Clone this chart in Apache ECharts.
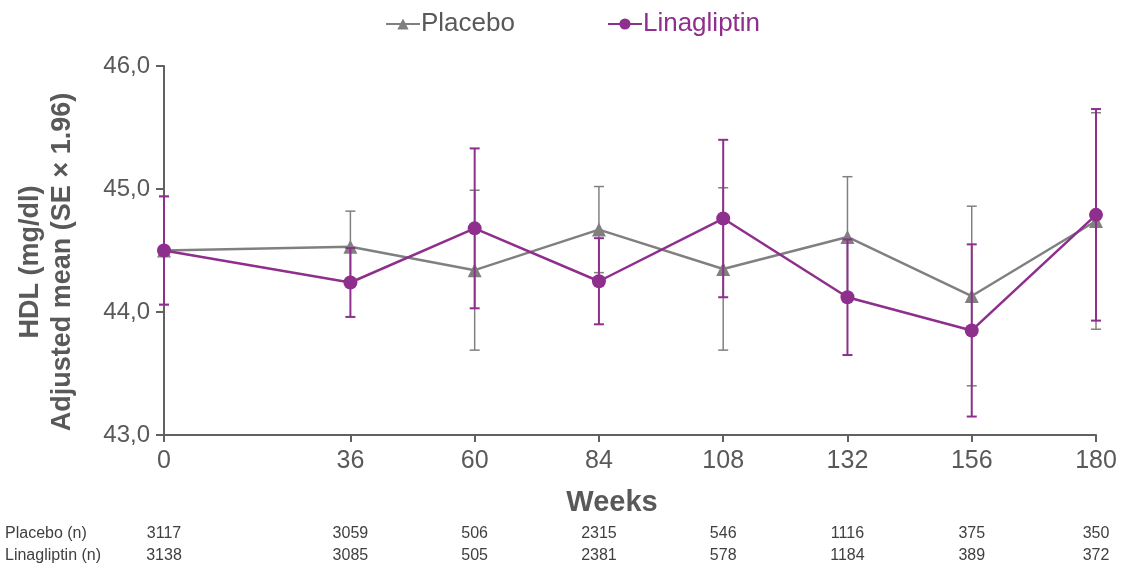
<!DOCTYPE html>
<html>
<head>
<meta charset="utf-8">
<script src="https://cdn.jsdelivr.net/npm/echarts@6/dist/echarts.min.js"></script>
<style>
  html, body { margin: 0; padding: 0; background: #fff; }
  #chart { width: 1127px; height: 567px; }
</style>
</head>
<body>
<div id="chart"></div>
<script>
// HDL adjusted mean by visit week, with 1.96*SE error bars
const weeks = [0, 36, 60, 84, 108, 132, 156, 180];
const placeboMean = [44.50, 44.53, 44.34, 44.67, 44.35, 44.61, 44.13, 44.74];
const placeboErr  = [0.44, 0.29, 0.65, 0.35, 0.66, 0.49, 0.73, 0.88];
const linaMean    = [44.50, 44.24, 44.68, 44.25, 44.76, 44.12, 43.85, 44.79];
const linaErr     = [0.44, 0.28, 0.65, 0.35, 0.64, 0.47, 0.70, 0.86];
const placeboN    = [3117, 3059, 506, 2315, 546, 1116, 375, 350];
const linaN       = [3138, 3085, 505, 2381, 578, 1184, 389, 372];
const yTicks      = [43, 44, 45, 46];

const PURPLE = '#8E2E8D';
const GREY = '#808080';
const TEXT = '#595959';
const AXIS = '#616161';
const FONT = '"Liberation Sans", Arial, sans-serif';

function errData(mean, err) {
  return weeks.map((w, i) => [w, mean[i] - err[i], mean[i] + err[i]]);
}

function errRenderer(color, width) {
  return function (params, api) {
    const x = api.value(0);
    const lo = api.coord([x, api.value(1)]);
    const hi = api.coord([x, api.value(2)]);
    const cap = 5;
    const style = { stroke: color, lineWidth: width };
    return {
      type: 'group',
      children: [
        { type: 'line', shape: { x1: lo[0], y1: lo[1], x2: hi[0], y2: hi[1] }, style },
        { type: 'line', shape: { x1: lo[0] - cap, y1: lo[1], x2: lo[0] + cap, y2: lo[1] }, style },
        { type: 'line', shape: { x1: hi[0] - cap, y1: hi[1], x2: hi[0] + cap, y2: hi[1] }, style }
      ]
    };
  };
}

function countAxis(values, offset) {
  return {
    type: 'value', min: 0, max: 180, position: 'bottom', offset: offset,
    axisLine: { show: false }, axisTick: { show: false }, splitLine: { show: false },
    axisLabel: {
      customValues: weeks, margin: 0,
      color: '#404040', fontSize: 16, fontFamily: FONT,
      formatter: v => { const i = weeks.indexOf(v); return i < 0 ? '' : String(values[i]); }
    }
  };
}

const chart = echarts.init(document.getElementById('chart'), null, { renderer: 'canvas' });
chart.setOption({
  animation: false,
  backgroundColor: '#ffffff',
  grid: { left: 164, right: 31, top: 66, bottom: 132, containLabel: false },
  legend: {
    data: [
      { name: 'Placebo', textStyle: { color: TEXT } },
      { name: 'Linagliptin', textStyle: { color: PURPLE } }
    ],
    left: 380, top: 6, itemWidth: 34, itemHeight: 14, itemGap: 92,
    textStyle: { fontSize: 26, fontFamily: FONT, padding: [0, 0, 0, -4] }
  },
  xAxis: [
    {
      type: 'value', min: 0, max: 180,
      axisLine: { show: true, lineStyle: { color: AXIS, width: 2 } },
      axisTick: { show: true, customValues: weeks, length: 7, lineStyle: { color: AXIS, width: 2 } },
      axisLabel: { customValues: weeks, color: TEXT, fontSize: 25, fontFamily: FONT, margin: 14 },
      splitLine: { show: false }
    },
    countAxis(placeboN, 91),
    countAxis(linaN, 113)
  ],
  yAxis: {
    type: 'value', min: yTicks[0], max: yTicks[yTicks.length - 1], interval: 1,
    axisLine: { show: true, lineStyle: { color: AXIS, width: 2 } },
    axisTick: { show: true, length: 8, lineStyle: { color: AXIS, width: 2 } },
    axisLabel: {
      color: TEXT, fontSize: 24, fontFamily: FONT, margin: 14,
      formatter: v => v.toFixed(1).replace('.', ',')
    },
    splitLine: { show: false }
  },
  graphic: [
    { type: 'text', x: 31, y: 262, rotation: Math.PI / 2,
      style: { text: 'HDL (mg/dl)', font: 'bold 27px ' + FONT, fill: TEXT, align: 'center', verticalAlign: 'middle' } },
    { type: 'text', x: 63, y: 262, rotation: Math.PI / 2,
      style: { text: 'Adjusted mean (SE \u00d7 1.96)', font: 'bold 27px ' + FONT, fill: TEXT, align: 'center', verticalAlign: 'middle' } },
    { type: 'text', x: 612, y: 503,
      style: { text: 'Weeks', font: 'bold 29px ' + FONT, fill: TEXT, align: 'center', verticalAlign: 'middle' } },
    { type: 'text', x: 5, y: 534,
      style: { text: 'Placebo (n)', font: '16px ' + FONT, fill: '#404040', align: 'left', verticalAlign: 'middle' } },
    { type: 'text', x: 5, y: 556,
      style: { text: 'Linagliptin (n)', font: '16px ' + FONT, fill: '#404040', align: 'left', verticalAlign: 'middle' } }
  ],
  series: [
    {
      name: 'Placebo SE', type: 'custom', z: 1,
      renderItem: errRenderer(GREY, 1.5), data: errData(placeboMean, placeboErr),
      encode: { x: 0, y: [1, 2] }, silent: true
    },
    {
      name: 'Placebo', type: 'line', z: 2,
      data: weeks.map((w, i) => [w, placeboMean[i]]),
      symbol: 'triangle', symbolSize: 14,
      itemStyle: { color: GREY }, lineStyle: { color: GREY, width: 2.5 }
    },
    {
      name: 'Linagliptin SE', type: 'custom', z: 3,
      renderItem: errRenderer(PURPLE, 2), data: errData(linaMean, linaErr),
      encode: { x: 0, y: [1, 2] }, silent: true
    },
    {
      name: 'Linagliptin', type: 'line', z: 4,
      data: weeks.map((w, i) => [w, linaMean[i]]),
      symbol: 'circle', symbolSize: 14,
      itemStyle: { color: PURPLE }, lineStyle: { color: PURPLE, width: 2.5 }
    }
  ]
});
</script>
</body>
</html>
